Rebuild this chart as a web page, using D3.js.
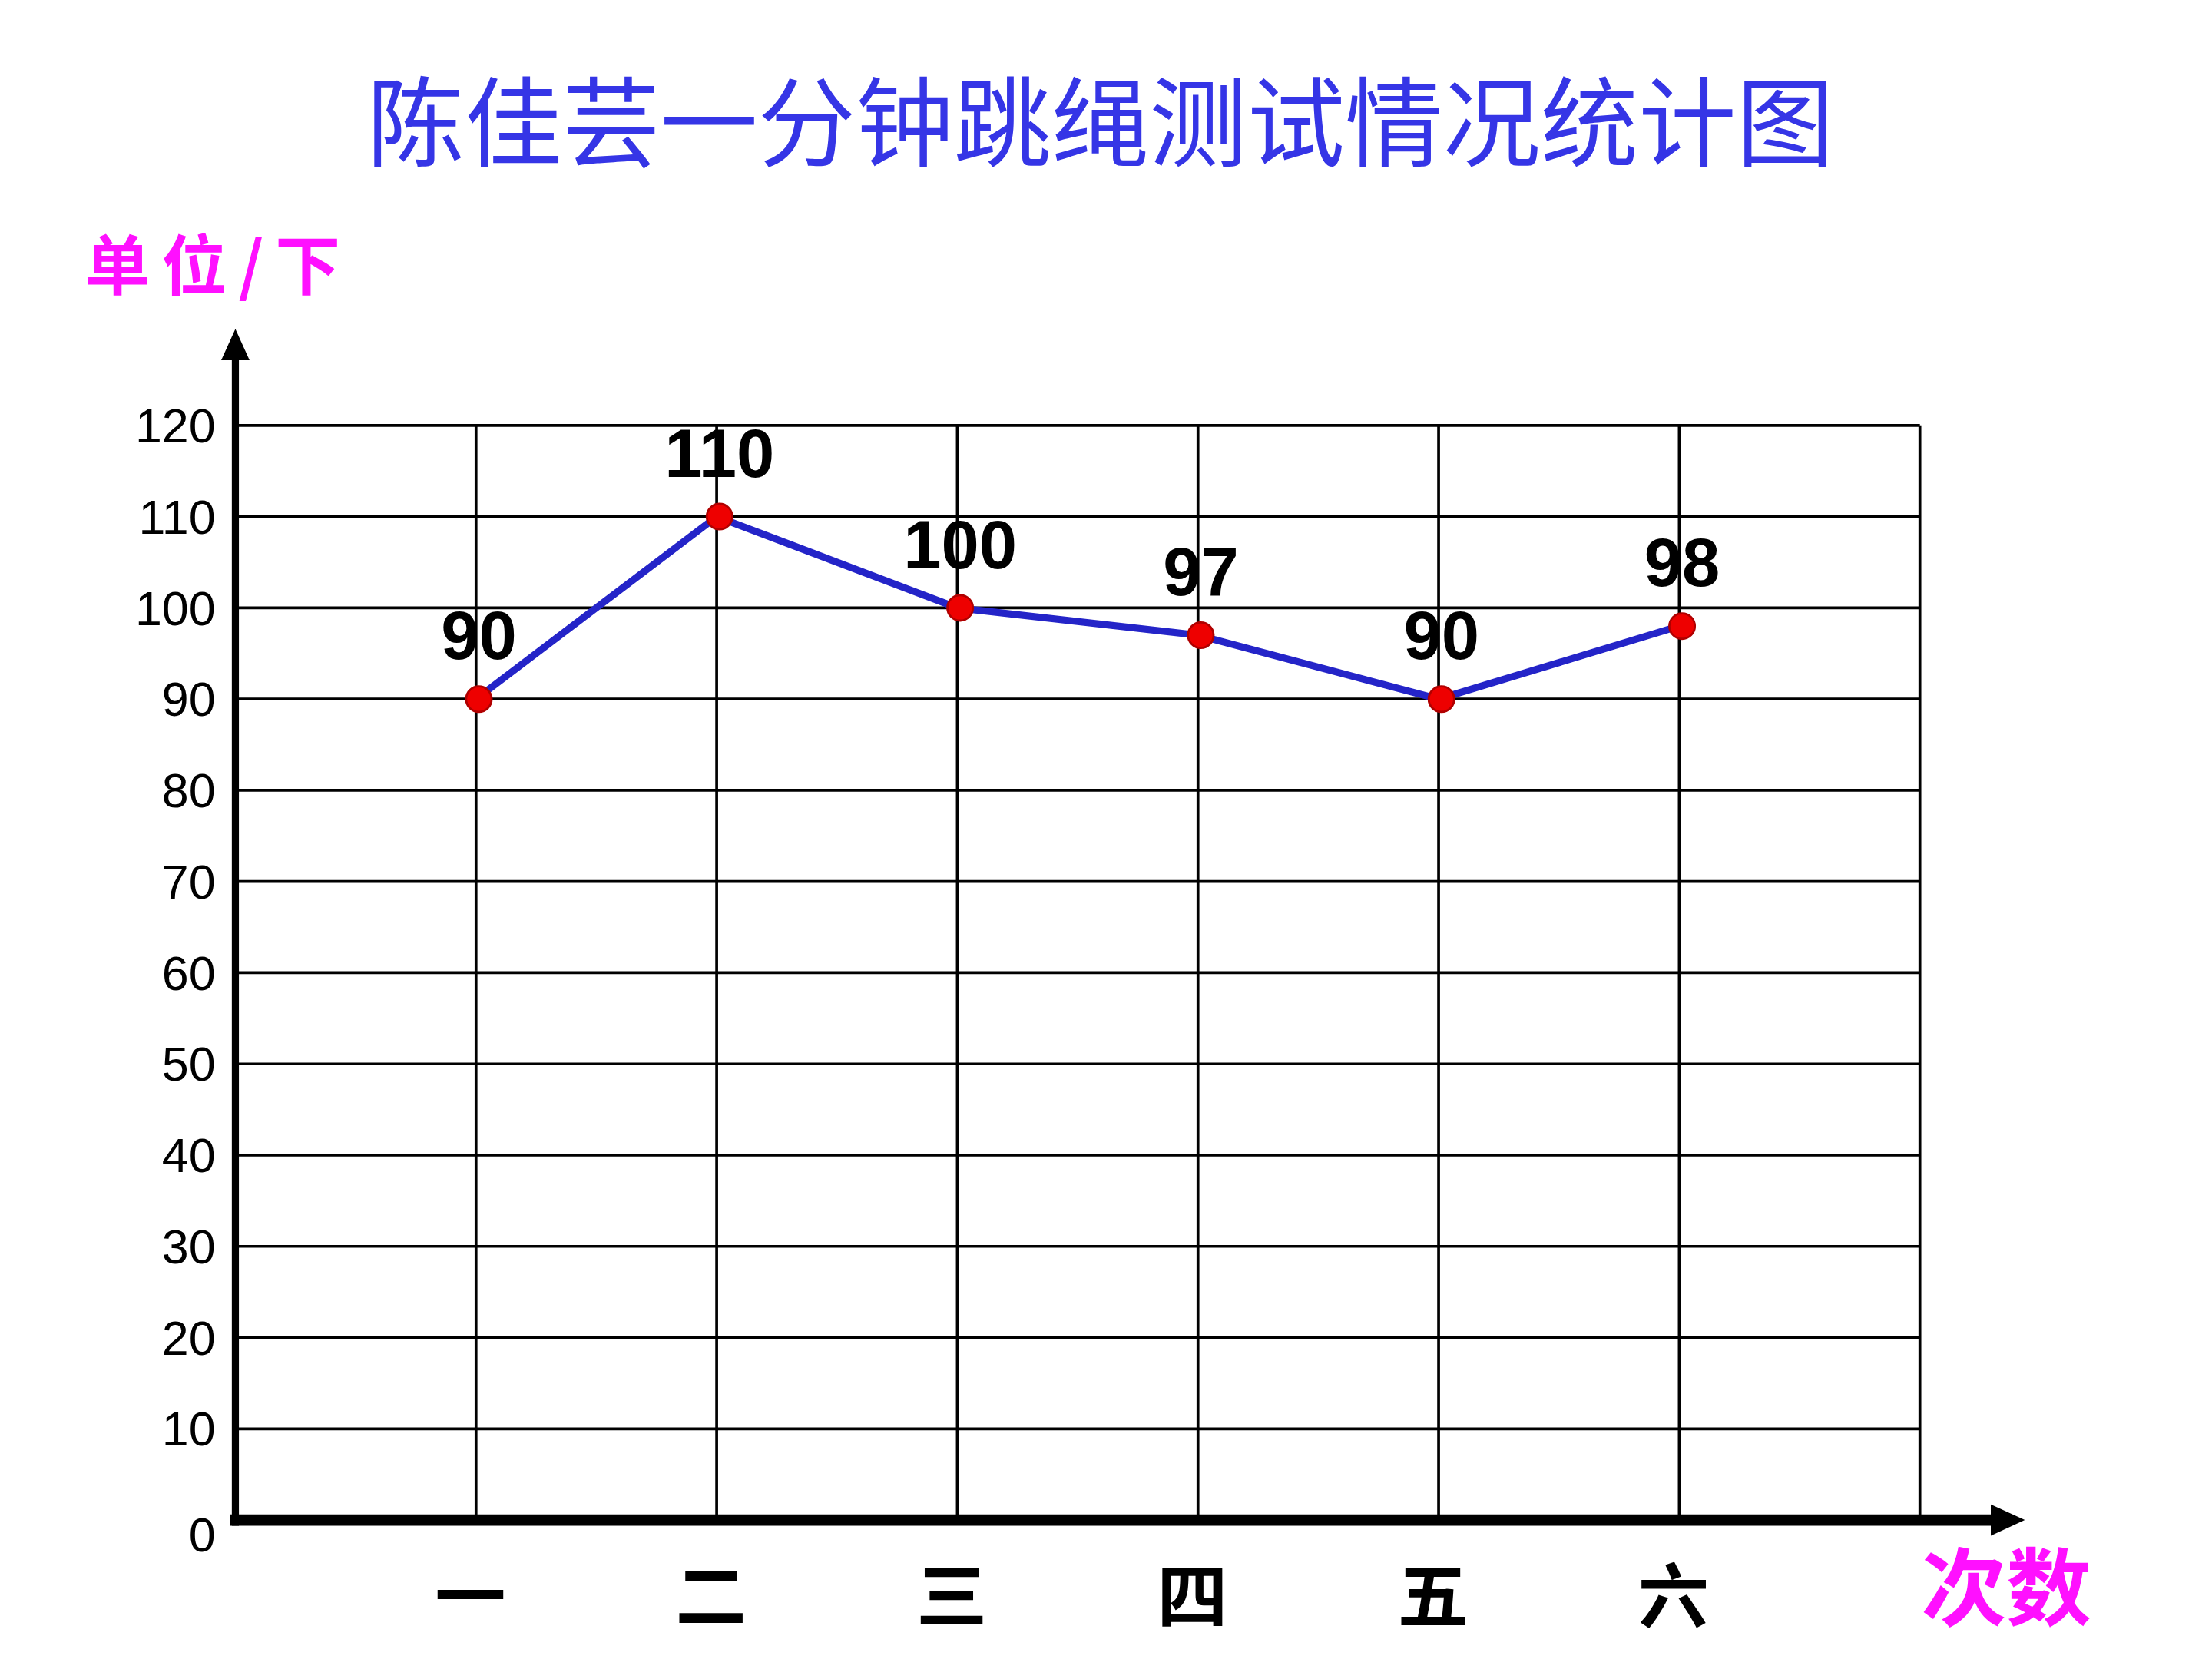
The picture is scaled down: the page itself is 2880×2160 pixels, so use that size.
<!DOCTYPE html>
<html><head><meta charset="utf-8">
<script src="https://cdn.jsdelivr.net/npm/d3@7"></script>
<style>html,body{margin:0;padding:0;background:#fff}svg{display:block}</style>
</head><body>
<script>
const categories = ["一","二","三","四","五","六"];
const values = [90,110,100,97,90,98];
const yTicks = [0,10,20,30,40,50,60,70,80,90,100,110,120];

const W=1560,H=1170;
const svg=d3.select("body").append("svg").attr("width",2880).attr("height",2160).attr("viewBox",`0 0 ${W} ${H}`);
const x0=166,x1=1354,yTop=300,yBot=1072;
const xs=i=>x0+(i+1)*(x1-x0)/7;
const y=d3.scaleLinear().domain([0,120]).range([yBot,yTop]);
const font="'Noto Sans CJK SC', 'DejaVu Sans', sans-serif";

svg.append("text").attr("x",776).attr("y",112).attr("text-anchor","middle").attr("font-family",font).attr("font-size",69).attr("fill","#3535e6").text("陈佳芸一分钟跳绳测试情况统计图");
svg.append("text").attr("x",60).attr("y",204).attr("font-family",font).attr("font-size",46).attr("font-weight","bold").attr("fill","#ff10ff").attr("textLength",180).text("单位/下");
svg.append("text").attr("x",1355).attr("y",1142).attr("font-family",font).attr("font-size",60).attr("font-weight","bold").attr("fill","#ff10ff").text("次数");

const g=svg.append("g");
g.selectAll("line.h").data(yTicks.slice(1)).join("line").attr("x1",x0).attr("x2",x1).attr("y1",d=>y(d)).attr("y2",d=>y(d)).attr("stroke","#000").attr("stroke-width",2);
g.selectAll("line.v").data(d3.range(7)).join("line").attr("x1",(d,i)=>xs(i)).attr("x2",(d,i)=>xs(i)).attr("y1",yTop).attr("y2",yBot).attr("stroke","#000").attr("stroke-width",2);
g.selectAll("text.t").data(yTicks).join("text").attr("x",152).attr("y",d=>y(d)+(d===0?22:12)).attr("text-anchor","end").attr("font-family","'Liberation Sans', Arial, sans-serif").attr("font-size",34).attr("fill","#000").text(d=>d);
svg.append("line").attr("x1",166).attr("x2",166).attr("y1",yBot+4).attr("y2",248).attr("stroke","#000").attr("stroke-width",5);
svg.append("path").attr("d","M166,232 L156,254 L176,254 Z").attr("fill","#000");
svg.append("line").attr("x1",162).attr("x2",1410).attr("y1",yBot).attr("y2",yBot).attr("stroke","#000").attr("stroke-width",8);
svg.append("path").attr("d","M1428,1072 L1404,1061 L1404,1083 Z").attr("fill","#000");
svg.selectAll("text.c").data(categories).join("text").attr("x",(d,i)=>xs(i)-4).attr("y",1144).attr("text-anchor","middle").attr("font-family",font).attr("font-weight","bold").attr("font-size",50).attr("fill","#000").text(d=>d);
const line=d3.line().x((d,i)=>xs(i)).y(d=>y(d));
svg.append("path").datum(values).attr("d",line).attr("fill","none").attr("stroke","#2424c8").attr("stroke-width",5);
svg.selectAll("circle.p").data(values).join("circle").attr("cx",(d,i)=>xs(i)+2).attr("cy",d=>y(d)).attr("r",9).attr("fill","#ee0000").attr("stroke","#b00000").attr("stroke-width",1.5);
svg.selectAll("text.v").data(values).join("text").attr("x",(d,i)=>xs(i)+2).attr("y",d=>y(d)-28).attr("text-anchor","middle").attr("font-family","'Liberation Sans', Arial, sans-serif").attr("font-weight","bold").attr("font-size",48).attr("fill","#000").text(d=>d);
</script>
</body></html>
